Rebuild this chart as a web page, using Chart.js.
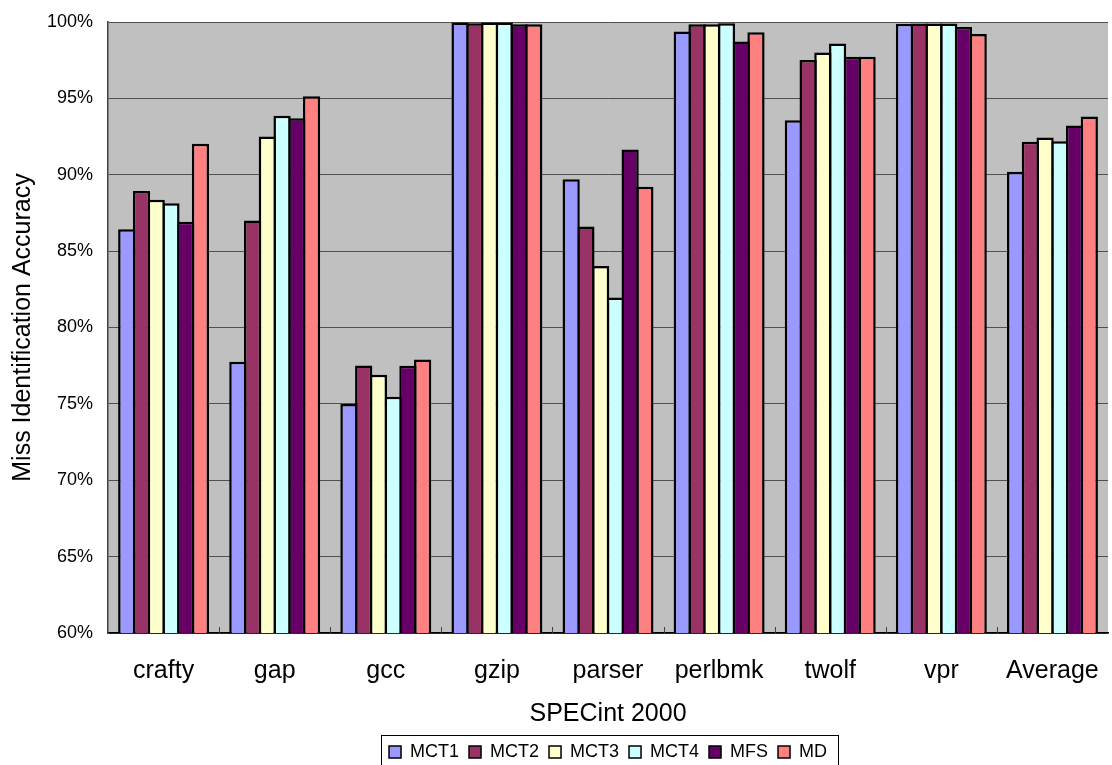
<!DOCTYPE html>
<html>
<head>
<meta charset="utf-8">
<script src="https://cdn.jsdelivr.net/npm/chart.js@4/dist/chart.umd.min.js"></script>
<style>
  html, body { margin: 0; padding: 0; background: #ffffff; }
  #wrap { width: 1112px; height: 765px; position: relative; }
</style>
</head>
<body>
<div id="wrap"><canvas id="c" width="1112" height="765"></canvas></div>
<script>
// Benchmarks on the x axis
const benchmarks = ['crafty', 'gap', 'gcc', 'gzip', 'parser', 'perlbmk', 'twolf', 'vpr', 'Average'];

// Miss identification accuracy (%) per scheme
const mct1 = [86.44, 77.76, 75.00, 99.97, 89.71, 99.38, 93.57, 99.88, 90.19];
const mct2 = [88.93, 87.00, 77.52, 99.92, 86.62, 99.86, 97.52, 99.90, 92.16];
const mct3 = [88.36, 92.50, 76.91, 99.97, 84.02, 99.86, 98.00, 99.90, 92.44];
const mct4 = [88.14, 93.86, 75.47, 99.97, 81.97, 99.92, 98.59, 99.90, 92.20];
const mfs  = [86.92, 93.70, 77.50, 99.86, 91.65, 98.72, 97.72, 99.68, 93.23];
const md   = [92.03, 95.14, 77.91, 99.86, 89.21, 99.33, 97.72, 99.22, 93.81];

const seriesNames = ['MCT1', 'MCT2', 'MCT3', 'MCT4', 'MFS', 'MD'];
const seriesData = [mct1, mct2, mct3, mct4, mfs, md];
const seriesColors = ['#9999FF', '#993366', '#FFFFCC', '#CCFFFF', '#660066', '#FF8080'];

// Y axis range and tick step
const yMin = 60, yMax = 100, yStep = 5;

const FONT = 'Arial, "Liberation Sans", Helvetica, sans-serif';

// Grey plot background
const plotBackground = {
  id: 'plotBackground',
  beforeDraw(chart) {
    const { ctx, chartArea: a } = chart;
    ctx.save();
    ctx.fillStyle = '#C0C0C0';
    ctx.fillRect(a.left, a.top, a.right - a.left, a.bottom - a.top);
    ctx.restore();
  }
};

// Short inward tick marks between categories on the x axis
const innerTicks = {
  id: 'innerTicks',
  afterDatasetsDraw(chart) {
    const xs = chart.scales.x, a = chart.chartArea, ctx = chart.ctx;
    ctx.save();
    ctx.strokeStyle = '#404040';
    ctx.lineWidth = 1;
    ctx.beginPath();
    for (let i = 1; i < benchmarks.length; i++) {
      const x = Math.round((xs.getPixelForTick(i - 1) + xs.getPixelForTick(i)) / 2) + 0.5;
      ctx.moveTo(x, a.bottom);
      ctx.lineTo(x, a.bottom - 6);
    }
    ctx.stroke();
    ctx.restore();
  }
};

// Centre the legend under the plot area and frame its entries
const legendFrame = {
  id: 'legendFrame',
  afterLayout(chart) {
    const lg = chart.legend, a = chart.chartArea;
    const shift = (a.left + a.right) / 2 - (lg.left + lg.right) / 2;
    lg.left += shift; lg.right += shift;
  },
  afterDraw(chart) {
    const lg = chart.legend;
    if (!lg || !lg.legendHitBoxes || !lg.legendHitBoxes.length) return;
    const boxes = lg.legendHitBoxes;
    let l = Infinity, r = -Infinity, t = Infinity;
    boxes.forEach(b => { l = Math.min(l, b.left); r = Math.max(r, b.left + b.width); t = Math.min(t, b.top); });
    const ctx = chart.ctx;
    ctx.save();
    ctx.strokeStyle = '#000000';
    ctx.lineWidth = 1;
    const x0 = Math.round(l) - 7.5, x1 = Math.round(r) + 11.5, y0 = Math.round(t) - 7.5;
    ctx.strokeRect(x0, y0, x1 - x0, 80);
    ctx.restore();
  }
};

new Chart(document.getElementById('c'), {
  type: 'bar',
  data: {
    labels: benchmarks,
    datasets: seriesNames.map((name, i) => ({
      label: name,
      data: seriesData[i],
      backgroundColor: seriesColors[i],
      borderColor: '#000000',
      borderWidth: 2.5,
      borderSkipped: false,
      categoryPercentage: 0.796,
      barPercentage: 1.17
    }))
  },
  options: {
    responsive: false,
    animation: false,
    devicePixelRatio: 1,
    layout: { padding: { top: 22, right: 4, left: 4, bottom: -6 } },
    plugins: {
      tooltip: { enabled: false },
      legend: {
        position: 'bottom',
        labels: {
          color: '#000000',
          font: { family: FONT, size: 18 },
          boxWidth: 12,
          boxHeight: 12,
          padding: 10,
          generateLabels(chart) {
            const items = Chart.defaults.plugins.legend.labels.generateLabels(chart);
            items.forEach(it => { it.lineWidth = 1.5; });
            return items;
          }
        }
      }
    },
    scales: {
      x: {
        grid: {
          display: true,
          drawOnChartArea: false,
          drawTicks: true,
          tickLength: 23,
          tickColor: 'rgba(0,0,0,0)',
          offset: true
        },
        border: { color: '#000000', width: 1.5 },
        ticks: { color: '#000000', font: { family: FONT, size: 25 }, padding: 0, maxRotation: 0 },
        title: {
          display: true,
          text: 'SPECint 2000',
          color: '#000000',
          font: { family: FONT, size: 25 },
          padding: { top: 13, bottom: 4 }
        }
      },
      y: {
        min: yMin,
        max: yMax,
        grid: {
          color: '#505050',
          lineWidth: 1,
          drawTicks: true,
          tickLength: 15,
          tickColor: 'rgba(0,0,0,0)'
        },
        border: { color: '#404040', width: 1.5 },
        ticks: {
          stepSize: yStep,
          color: '#000000',
          font: { family: FONT, size: 18 },
          padding: 0,
          callback: v => v + '%'
        },
        title: {
          display: true,
          text: 'Miss Identification Accuracy',
          color: '#000000',
          font: { family: FONT, size: 25 },
          padding: { top: 4, bottom: 9 }
        }
      }
    }
  },
  plugins: [plotBackground, innerTicks, legendFrame]
});
</script>
</body>
</html>
